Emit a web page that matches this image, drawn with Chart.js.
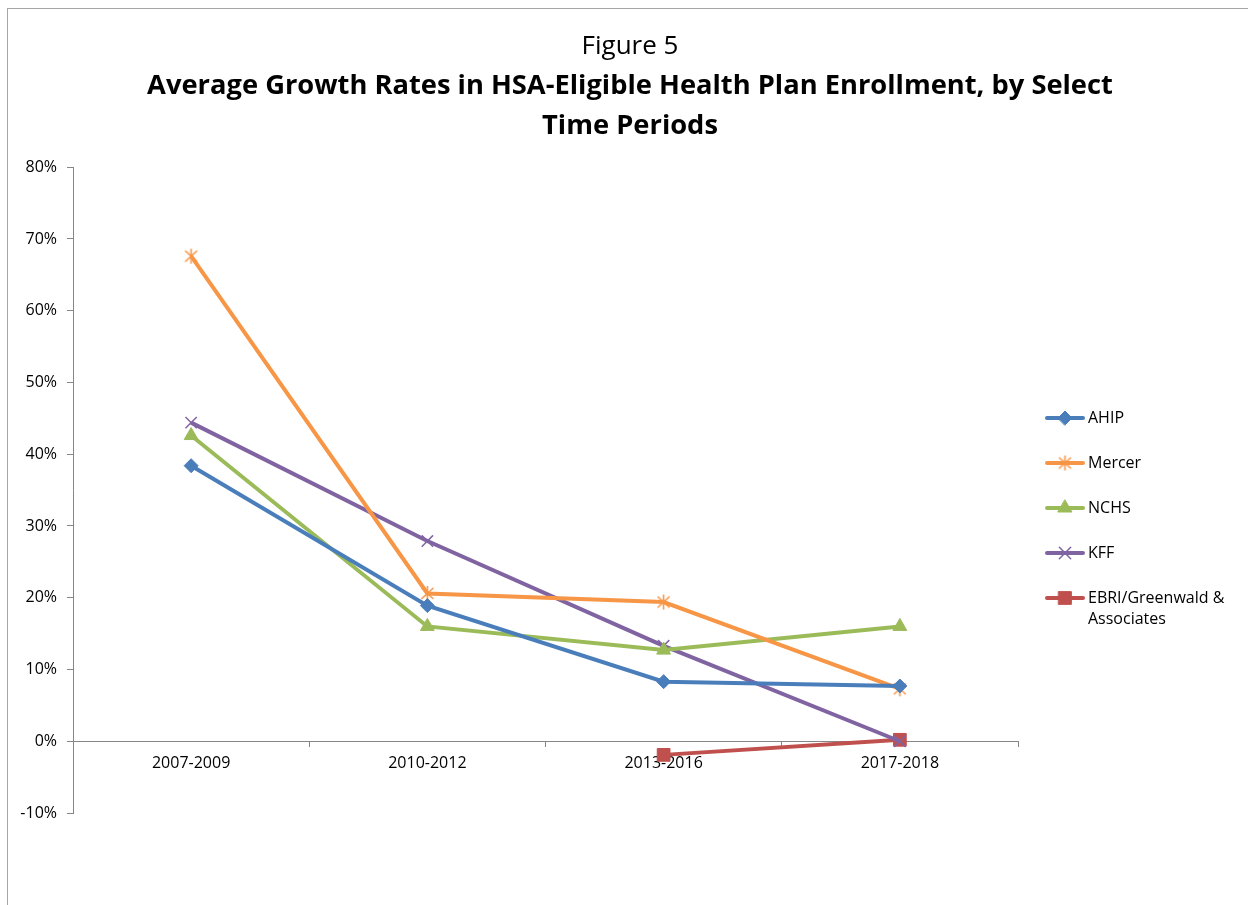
<!DOCTYPE html>
<html>
<head>
<meta charset="utf-8">
<script src="https://cdn.jsdelivr.net/npm/chart.js@4.4.1/dist/chart.umd.min.js"></script>
<style>
  html, body { margin: 0; padding: 0; background: #ffffff; overflow: hidden; }
  #frame { position: absolute; left: 7px; top: 8px; width: 1300px; height: 1000px; border: 1px solid #a6a6a6; }
  #wrap { position: absolute; left: 0; top: 0; width: 1248px; height: 905px; }
</style>
</head>
<body>
<div id="frame"></div>
<div id="wrap"><canvas id="growthChart" width="1248" height="905"></canvas></div>
<script>
// Average growth rates of HSA-eligible plan enrollment, by source and period

const periods = ['2007-2009', '2010-2012', '2013-2016', '2017-2018'];

const ahip   = [38.4, 18.9, 8.3, 7.7];
const mercer = [67.6, 20.6, 19.4, 7.3];
const nchs   = [42.6, 16.0, 12.7, 16.0];
const kff    = [44.4, 27.9, 13.3, 0.0];
const ebri   = [null, null, -1.9, 0.2];

const yTicks = [-10, 0, 10, 20, 30, 40, 50, 60, 70, 80];

const FONT = "'Open Sans', 'DejaVu Sans', sans-serif";
const AXIS_GRAY = '#868686';

// Excel-style asterisk marker (X with a vertical bar)
function makeAsterisk(color) {
    const c = document.createElement('canvas');
    c.width = 17;
    c.height = 17;
    const g = c.getContext('2d');
    g.strokeStyle = color;
    g.lineWidth = 1.6;
    g.beginPath();
    g.moveTo(8.5, 1); g.lineTo(8.5, 16);
    g.moveTo(2.5, 3); g.lineTo(14.5, 14);
    g.moveTo(14.5, 3); g.lineTo(2.5, 14);
    g.stroke();
    return c;
}

const series = [
    { label: 'AHIP', data: ahip, color: '#4A7EBB', style: 'rectRot', radius: 7, bw: 1 },
    { label: 'Mercer', data: mercer, color: '#F79646', style: makeAsterisk('#F79646'), radius: 8, bw: 1 },
    { label: 'NCHS', data: nchs, color: '#9BBB59', style: 'triangle', radius: 8, bw: 1 },
    { label: 'KFF', data: kff, color: '#8064A2', style: 'crossRot', radius: 8, bw: 1.5 },
    { label: ['EBRI/Greenwald &', 'Associates'], data: ebri, color: '#C0504D', style: 'rect', radius: 9, bw: 1 }
];

// Legend drawn to the right of the plot, line + marker per series
const sideLegend = {
    id: 'sideLegend',
    afterDraw(chart) {
        const ctx = chart.ctx;
        const x0 = 1047, x1 = 1083, tx = 1088;
        let y = 418;
        ctx.save();
        series.forEach(s => {
            ctx.strokeStyle = s.color;
            ctx.lineWidth = 4;
            ctx.lineCap = 'round';
            ctx.beginPath();
            ctx.moveTo(x0, y);
            ctx.lineTo(x1, y);
            ctx.stroke();

            ctx.fillStyle = s.color;
            ctx.strokeStyle = s.color;
            ctx.lineWidth = s.bw;
            Chart.helpers.drawPoint(ctx, {
                pointStyle: s.style,
                radius: s.radius,
                rotation: 0,
                borderWidth: s.bw
            }, (x0 + x1) / 2, y);

            ctx.fillStyle = '#000000';
            ctx.font = '16px ' + FONT;
            ctx.textBaseline = 'middle';
            ctx.textAlign = 'left';
            const lines = Array.isArray(s.label) ? s.label : [s.label];
            lines.forEach((line, i) => ctx.fillText(line, tx, y + i * 21));
            y += 45;
        });
        ctx.restore();
    }
};

new Chart(document.getElementById('growthChart'), {
    type: 'line',
    data: {
        labels: periods,
        datasets: series.map(s => ({
            label: Array.isArray(s.label) ? s.label.join(' ') : s.label,
            data: s.data,
            borderColor: s.color,
            backgroundColor: s.color,
            borderWidth: 4,
            pointStyle: s.style,
            pointRadius: s.radius,
            pointHoverRadius: s.radius,
            pointBorderWidth: s.bw,
            pointBackgroundColor: s.color,
            pointBorderColor: s.color,
            tension: 0,
            clip: false,
            spanGaps: false
        }))
    },
    options: {
        responsive: false,
        animation: false,
        layout: {
            padding: { left: 12, right: 0, top: 0, bottom: 92 }
        },
        plugins: {
            legend: { display: false },
            tooltip: { enabled: false },
            title: {
                display: true,
                text: 'Figure 5',
                color: '#000000',
                font: { family: FONT, size: 26, weight: 'normal', lineHeight: 1.2 },
                padding: { top: 31, bottom: 4 }
            },
            subtitle: {
                display: true,
                text: ['Average Growth Rates in HSA-Eligible Health Plan Enrollment, by Select', 'Time Periods'],
                color: '#000000',
                font: { family: FONT, size: 27.3, weight: 'bold', lineHeight: 1.465 },
                padding: { top: 0, bottom: 21 }
            }
        },
        scales: {
            x: {
                type: 'category',
                position: { y: 0 },
                offset: true,
                grid: {
                    display: true,
                    offset: true,
                    drawOnChartArea: false,
                    drawTicks: true,
                    tickLength: 5,
                    color: AXIS_GRAY
                },
                border: { display: true, color: AXIS_GRAY, width: 1 },
                ticks: {
                    color: '#000000',
                    padding: 8,
                    maxRotation: 0,
                    font: { family: FONT, size: 16 }
                }
            },
            y: {
                position: 'left',
                min: -10,
                max: 80,
                afterBuildTicks(scale) {
                    scale.ticks = yTicks.map(v => ({ value: v }));
                },
                afterFit(scale) {
                    scale.width = 61;
                },
                grid: {
                    display: true,
                    drawOnChartArea: false,
                    drawTicks: true,
                    tickLength: 6,
                    color: AXIS_GRAY
                },
                border: { display: true, color: AXIS_GRAY, width: 1 },
                ticks: {
                    color: '#000000',
                    padding: 10,
                    font: { family: FONT, size: 16 },
                    callback: v => v + '%'
                }
            },
            // empty right-hand axis keeps room for the legend
            side: {
                type: 'linear',
                position: 'right',
                display: true,
                grid: { display: false },
                border: { display: false },
                ticks: { display: false },
                afterFit(scale) {
                    scale.width = 230;
                }
            }
        }
    },
    plugins: [sideLegend]
});
</script>
</body>
</html>
